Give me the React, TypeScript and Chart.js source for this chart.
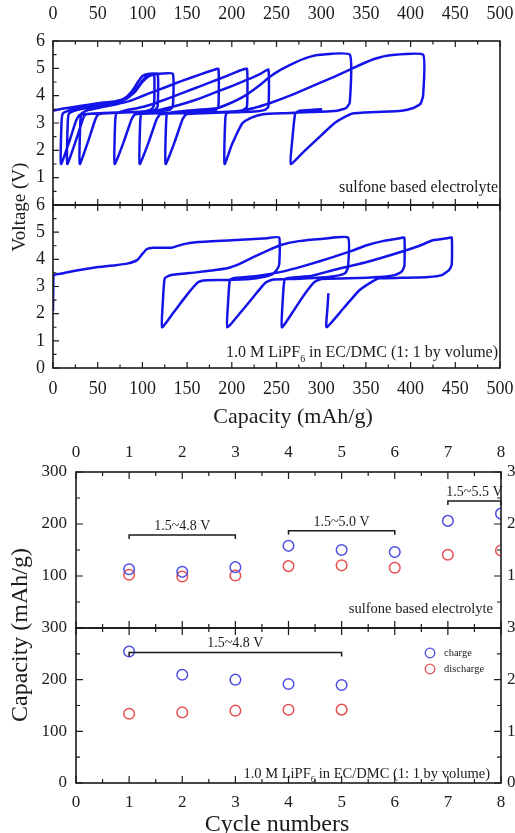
import React, { useEffect, useRef } from "react";
import { Chart, registerables } from "chart.js";

Chart.register(...registerables);

const W = 515;
const H = 833;
const SERIF = "'Liberation Serif', 'Times New Roman', Times, serif";
const INK = "#1b1b1b";
const VOLT_BLUE = "rgb(20, 20, 232)";
const CHARGE_BLUE = "rgb(78, 78, 226)";
const DISCHARGE_RED = "rgb(230, 80, 80)";

type Pt = [number, number];

// ================= Top figure: voltage (V) vs capacity (mAh/g) =================
// --- sulfone based electrolyte ---
const sulfoneCharge1: Pt[] = [[0, 3.45], [10, 3.52], [30, 3.62], [50, 3.72], [70, 3.8], [80, 3.9], [88, 4.15], [95, 4.5], [100, 4.72], [106, 4.79], [113, 4.8]];
const sulfoneDischarge1: Pt[] = [[113, 4.8], [113, 3.65], [110, 3.5], [100, 3.42], [80, 3.38], [50, 3.35], [30, 3.3], [26, 3.1], [18, 2.3], [9, 1.5]];
const sulfoneCharge2: Pt[] = [[9, 1.5], [9.5, 3.0], [11, 3.35], [20, 3.48], [40, 3.6], [60, 3.72], [75, 3.82], [85, 3.95], [92, 4.2], [100, 4.55], [106, 4.75], [117, 4.8]];
const sulfoneDischarge2: Pt[] = [[117, 4.8], [117, 3.6], [114, 3.48], [100, 3.42], [70, 3.38], [45, 3.35], [36, 3.3], [33, 3.1], [25, 2.3], [16, 1.5]];
const sulfoneCharge3: Pt[] = [[16, 1.5], [16.5, 3.0], [18, 3.35], [30, 3.5], [50, 3.62], [70, 3.75], [82, 3.88], [92, 4.15], [100, 4.5], [108, 4.72], [118, 4.8], [134, 4.8]];
const sulfoneDischarge3: Pt[] = [[134, 4.8], [134, 3.6], [130, 3.48], [110, 3.42], [80, 3.38], [55, 3.35], [50, 3.3], [47, 3.1], [39, 2.3], [30, 1.5]];
const sulfoneCharge4: Pt[] = [[30, 1.5], [30.5, 3.0], [32, 3.35], [40, 3.48], [55, 3.58], [70, 3.68], [85, 3.8], [95, 3.92], [108, 4.09], [125, 4.3], [145, 4.55], [165, 4.78], [178, 4.92], [185, 4.98]];
const sulfoneDischarge4: Pt[] = [[185, 4.98], [185, 3.6], [182, 3.48], [170, 3.42], [140, 3.38], [110, 3.35], [92, 3.32], [88, 3.15], [79, 2.3], [69, 1.5]];
const sulfoneCharge5: Pt[] = [[69, 1.5], [69.5, 3.0], [71, 3.35], [80, 3.45], [95, 3.55], [108, 3.66], [125, 3.85], [145, 4.1], [165, 4.35], [185, 4.6], [200, 4.8], [210, 4.93], [217, 4.98]];
const sulfoneDischarge5: Pt[] = [[217, 4.98], [217, 3.6], [213, 3.48], [200, 3.42], [170, 3.38], [130, 3.35], [120, 3.32], [116, 3.15], [107, 2.3], [97, 1.5]];
const sulfoneCharge6: Pt[] = [[97, 1.5], [97.5, 3.0], [99, 3.35], [108, 3.42], [119, 3.48], [140, 3.65], [160, 3.85], [180, 4.1], [200, 4.35], [220, 4.62], [233, 4.82], [241, 4.95]];
const sulfoneDischarge6: Pt[] = [[241, 4.95], [241, 3.6], [237, 3.48], [225, 3.42], [190, 3.38], [160, 3.35], [149, 3.32], [145, 3.15], [136, 2.3], [126, 1.5]];
const sulfoneCharge7: Pt[] = [[126, 1.5], [126.5, 3.0], [128, 3.35], [140, 3.42], [160, 3.48], [183, 3.54], [200, 3.75], [215, 4.0], [230, 4.35], [243, 4.7], [255, 4.95], [270, 5.2], [285, 5.4], [299, 5.5], [332, 5.5]];
const sulfoneDischarge7: Pt[] = [[332, 5.5], [332, 3.75], [328, 3.55], [318, 3.45], [290, 3.4], [260, 3.36], [235, 3.32], [222, 3.2], [212, 3.0], [200, 2.2], [192, 1.5]];
const sulfoneCharge8: Pt[] = [[192, 1.5], [192.5, 3.0], [194, 3.35], [205, 3.42], [225, 3.55], [243, 3.73], [265, 4.0], [290, 4.35], [315, 4.7], [332, 4.95], [345, 5.15], [360, 5.35], [377, 5.48], [414, 5.5]];
const sulfoneDischarge8: Pt[] = [[414, 5.5], [414, 4.0], [411, 3.7], [403, 3.55], [390, 3.45], [360, 3.4], [335, 3.35], [325, 3.2], [315, 3.0], [300, 2.55], [282, 2.0], [266, 1.5]];
const sulfoneCharge9: Pt[] = [[266, 1.5], [268, 2.5], [271, 3.35], [276, 3.45], [288, 3.48], [301, 3.5]];

const sulfoneSegments: Pt[][] = [
  sulfoneCharge1, sulfoneDischarge1, sulfoneCharge2, sulfoneDischarge2, sulfoneCharge3, sulfoneDischarge3,
  sulfoneCharge4, sulfoneDischarge4, sulfoneCharge5, sulfoneDischarge5, sulfoneCharge6, sulfoneDischarge6,
  sulfoneCharge7, sulfoneDischarge7, sulfoneCharge8, sulfoneDischarge8, sulfoneCharge9,
];

// --- 1.0 M LiPF6 in EC/DMC ---
const lipfCharge1: Pt[] = [[0, 2.1], [0.3, 3.0], [1, 3.42], [10, 3.48], [28, 3.6], [47, 3.7], [70, 3.78], [84, 3.85], [94, 3.97], [100, 4.2], [105, 4.38], [112, 4.43], [133, 4.43], [145, 4.55], [160, 4.63], [200, 4.7], [240, 4.78], [253, 4.8]];
const lipfDischarge1: Pt[] = [[253, 4.8], [253, 3.8], [250, 3.6], [245, 3.45], [235, 3.35], [220, 3.28], [190, 3.24], [168, 3.22], [162, 3.15], [150, 2.7], [135, 2.05], [122, 1.5]];
const lipfCharge2: Pt[] = [[122, 1.5], [123, 2.5], [125, 3.3], [132, 3.42], [160, 3.52], [180, 3.6], [195, 3.67], [210, 3.85], [224, 4.08], [240, 4.32], [254, 4.52], [275, 4.67], [300, 4.75], [330, 4.8]];
const lipfDischarge2: Pt[] = [[330, 4.8], [330, 3.7], [327, 3.5], [318, 3.4], [300, 3.33], [270, 3.28], [245, 3.25], [237, 3.12], [225, 2.65], [210, 2.05], [195, 1.5]];
const lipfCharge3: Pt[] = [[195, 1.5], [196, 2.5], [198, 3.25], [205, 3.32], [230, 3.4], [254, 3.53], [280, 3.75], [313, 4.08], [335, 4.32], [351, 4.52], [370, 4.68], [388, 4.78], [393, 4.8]];
const lipfDischarge3: Pt[] = [[393, 4.8], [393, 3.75], [390, 3.55], [382, 3.42], [365, 3.35], [330, 3.3], [300, 3.28], [292, 3.15], [280, 2.65], [268, 2.05], [256, 1.5]];
const lipfCharge4: Pt[] = [[256, 1.5], [257, 2.5], [259, 3.25], [265, 3.32], [290, 3.4], [313, 3.6], [351, 3.9], [388, 4.26], [410, 4.5], [425, 4.7], [441, 4.78], [446, 4.8]];
const lipfDischarge4: Pt[] = [[446, 4.8], [446, 3.8], [443, 3.6], [435, 3.42], [420, 3.35], [390, 3.32], [365, 3.3], [358, 3.2], [343, 2.87], [325, 2.2], [306, 1.5]];
const lipfCharge5: Pt[] = [[306, 1.5], [307, 2.2], [308, 2.75]];

const lipfSegments: Pt[][] = [
  lipfCharge1, lipfDischarge1, lipfCharge2, lipfDischarge2, lipfCharge3, lipfDischarge3,
  lipfCharge4, lipfDischarge4, lipfCharge5,
];

// axis ranges of top figure
const capacityAxis = [0, 500, 50]; // min, max, step (mAh/g)
const voltageAxis = [0, 6, 1]; // min, max, step (V)

// ================= Bottom figure: capacity vs cycle number =================
const sulfoneCycles = [1, 2, 3, 4, 5, 6, 7, 8];
const sulfoneChargeCap = [113, 108, 117, 158, 150, 146, 206, 220];
const sulfoneDischargeCap = [102.5, 99, 101, 119, 120.5, 116, 141, 149];

const lipfCycles = [1, 2, 3, 4, 5];
const lipfChargeCap = [254.6, 209.5, 200, 191.5, 189.6];
const lipfDischargeCap = [134, 136.6, 140, 141.8, 142];

const cycleAxis = [0, 8, 1];
const cycleCapAxis = [0, 300, 100];

// voltage window brackets
const sulfoneRangeLabels = ["1.5~4.8 V", "1.5~5.0 V", "1.5~5.5 V"];
const sulfoneRangeFrom = [1, 4, 7];
const sulfoneRangeTo = [3, 6, 8];
const sulfoneRangeLevel = [179, 187, 244];

const lipfRangeLabels = ["1.5~4.8 V"];
const lipfRangeFrom = [1];
const lipfRangeTo = [5];
const lipfRangeLevel = [252.6];

// ================= helpers =================
function joinSegments(segs: Pt[][]) {
  const out: { x: number; y: number }[] = [];
  segs.forEach((seg) => {
    seg.forEach(([x, y]) => {
      const last = out[out.length - 1];
      if (last && last.x === x && last.y === y) return;
      out.push({ x, y });
    });
  });
  return out;
}

function pairs(xs: number[], ys: number[]) {
  return xs.map((x, i) => ({ x, y: ys[i] }));
}

function axis(
  position: "top" | "bottom" | "left" | "right",
  range: number[],
  size: number,
  padding: number,
  fit: number,
  hideZero = false
) {
  const horizontal = position === "top" || position === "bottom";
  return {
    type: "linear",
    position,
    min: range[0],
    max: range[1],
    ticks: {
      stepSize: range[2],
      color: INK,
      font: { family: SERIF, size },
      padding,
      maxRotation: 0,
      autoSkip: false,
      callback: (v: number) => (hideZero && v === 0 ? "" : String(v)),
    },
    grid: { display: false, drawTicks: false },
    border: { display: false },
    afterFit: (s: any) => {
      if (horizontal) s.height = fit;
      else s.width = fit;
      s.paddingLeft = 0;
      s.paddingRight = 0;
      s.paddingTop = 0;
      s.paddingBottom = 0;
    },
  };
}

type Side = "top" | "bottom" | "left" | "right";

function frameTicks(sides: [Side, string][], major: number, minor: number) {
  return {
    id: "frameTicks",
    afterDatasetsDraw(chart: any) {
      const { ctx, chartArea: a } = chart;
      ctx.save();
      ctx.strokeStyle = INK;
      ctx.lineWidth = 1.2;
      for (const [side, id] of sides) {
        const s = chart.scales[id];
        const vals: number[] = s.ticks.map((t: any) => t.value);
        const marks: [number, number][] = [];
        vals.forEach((v, i) => {
          marks.push([v, major]);
          if (i < vals.length - 1) marks.push([(v + vals[i + 1]) / 2, minor]);
        });
        ctx.beginPath();
        for (const [v, len] of marks) {
          const p = s.getPixelForValue(v);
          if (side === "top") { ctx.moveTo(p, a.top); ctx.lineTo(p, a.top + len); }
          else if (side === "bottom") { ctx.moveTo(p, a.bottom); ctx.lineTo(p, a.bottom - len); }
          else if (side === "left") { ctx.moveTo(a.left, p); ctx.lineTo(a.left + len, p); }
          else { ctx.moveTo(a.right, p); ctx.lineTo(a.right - len, p); }
        }
        ctx.stroke();
      }
      ctx.lineWidth = 1.6;
      ctx.strokeRect(a.left, a.top, a.right - a.left, a.bottom - a.top);
      ctx.restore();
    },
  };
}

function drawText(
  ctx: CanvasRenderingContext2D,
  text: string,
  x: number,
  y: number,
  size: number,
  align: CanvasTextAlign = "center",
  rotate = false
) {
  ctx.save();
  ctx.font = `${size}px ${SERIF}`;
  ctx.fillStyle = INK;
  ctx.textAlign = align;
  ctx.textBaseline = "middle";
  if (rotate) {
    ctx.translate(x, y);
    ctx.rotate(-Math.PI / 2);
    ctx.fillText(text, 0, 0);
  } else {
    ctx.fillText(text, x, y);
  }
  ctx.restore();
}

function drawLiPF(ctx: CanvasRenderingContext2D, right: number, y: number, size: number) {
  const a = "1.0 M LiPF";
  const sub = "6";
  const b = " in EC/DMC (1: 1 by volume)";
  const subSize = size * 0.62;
  ctx.save();
  ctx.fillStyle = INK;
  ctx.textBaseline = "alphabetic";
  ctx.textAlign = "left";
  ctx.font = `${size}px ${SERIF}`;
  const wa = ctx.measureText(a).width;
  const wb = ctx.measureText(b).width;
  ctx.font = `${subSize}px ${SERIF}`;
  const ws = ctx.measureText(sub).width;
  const base = y + size * 0.33;
  let x = right - (wa + ws + wb);
  ctx.font = `${size}px ${SERIF}`;
  ctx.fillText(a, x, base);
  x += wa;
  ctx.font = `${subSize}px ${SERIF}`;
  ctx.fillText(sub, x, base + size * 0.28);
  x += ws;
  ctx.font = `${size}px ${SERIF}`;
  ctx.fillText(b, x, base);
  ctx.restore();
}

function drawBrackets(chart: any, labels: string[], from: number[], to: number[], level: number[], size: number) {
  const { ctx } = chart;
  const xs = chart.scales.x;
  const ys = chart.scales.y;
  ctx.save();
  ctx.strokeStyle = INK;
  ctx.lineWidth = 1.5;
  labels.forEach((lab, i) => {
    const x0 = xs.getPixelForValue(from[i]);
    const x1 = xs.getPixelForValue(to[i]);
    const y = ys.getPixelForValue(level[i]);
    ctx.beginPath();
    ctx.moveTo(x0, y + 4);
    ctx.lineTo(x0, y);
    ctx.lineTo(x1, y);
    ctx.lineTo(x1, y + 4);
    ctx.stroke();
    ctx.font = `${size}px ${SERIF}`;
    ctx.fillStyle = INK;
    ctx.textAlign = "center";
    ctx.textBaseline = "alphabetic";
    ctx.fillText(lab, (x0 + x1) / 2, y - 5);
  });
  ctx.restore();
}

function overlay(draw: (chart: any) => void) {
  return { id: "overlay", afterDraw: (chart: any) => draw(chart) };
}

const common = {
  responsive: false,
  animation: false as const,
  devicePixelRatio: 1,
  events: [] as any[],
  plugins: { legend: { display: false }, tooltip: { enabled: false } },
};

function voltageDataset(segs: Pt[][]) {
  return {
    data: joinSegments(segs),
    showLine: true,
    borderColor: VOLT_BLUE,
    borderWidth: 2.5,
    pointRadius: 0,
    tension: 0.15,
    fill: false,
  };
}

function circleDataset(xs: number[], ys: number[], color: string) {
  return {
    data: pairs(xs, ys),
    showLine: false,
    pointStyle: "circle",
    pointRadius: 5.3,
    pointBorderWidth: 1.5,
    borderColor: color,
    pointBorderColor: color,
    backgroundColor: "rgba(0,0,0,0)",
    pointBackgroundColor: "rgba(0,0,0,0)",
    clip: 0,
  };
}

// ---- panel 1: sulfone voltage profiles ----
function makeVoltageSulfone(canvas: HTMLCanvasElement) {
  return new Chart(canvas, {
    type: "scatter",
    data: { datasets: [voltageDataset(sulfoneSegments) as any] },
    options: {
      ...common,
      layout: { autoPadding: false, padding: { left: 0, right: 15, top: 0, bottom: H - 205 } },
      scales: {
        x: axis("top", capacityAxis, 18, 16, 41) as any,
        y: axis("left", voltageAxis, 18, 8, 53, true) as any,
      },
    } as any,
    plugins: [
      frameTicks([["top", "x"], ["bottom", "x"], ["left", "y"]], 6, 3.5),
      overlay((chart) => {
        drawText(chart.ctx, "sulfone based electrolyte", 498, 188, 16, "right");
      }),
    ],
  });
}

// ---- panel 2: LiPF6 voltage profiles ----
function makeVoltageLipf(canvas: HTMLCanvasElement) {
  return new Chart(canvas, {
    type: "scatter",
    data: { datasets: [voltageDataset(lipfSegments) as any] },
    options: {
      ...common,
      layout: { autoPadding: false, padding: { left: 0, right: 15, top: 205, bottom: H - 368 - 40 } },
      scales: {
        x: axis("bottom", capacityAxis, 18, 10, 40) as any,
        y: axis("left", voltageAxis, 18, 8, 53) as any,
      },
    } as any,
    plugins: [
      frameTicks([["top", "x"], ["bottom", "x"], ["left", "y"]], 6, 3.5),
      overlay((chart) => {
        const ctx = chart.ctx;
        drawLiPF(ctx, 498, 352, 16);
        drawText(ctx, "Voltage (V)", 20, 207, 19, "center", true);
        drawText(ctx, "Capacity (mAh/g)", 293, 417, 22, "center");
      }),
    ],
  });
}

// ---- panel 3: sulfone capacity vs cycle ----
function makeCycleSulfone(canvas: HTMLCanvasElement) {
  return new Chart(canvas, {
    type: "scatter",
    data: {
      datasets: [
        circleDataset(sulfoneCycles, sulfoneChargeCap, CHARGE_BLUE) as any,
        circleDataset(sulfoneCycles, sulfoneDischargeCap, DISCHARGE_RED) as any,
      ],
    },
    options: {
      ...common,
      layout: { autoPadding: false, padding: { left: 0, right: 0, top: 432, bottom: H - 628 } },
      scales: {
        x: axis("top", cycleAxis, 17, 9, 40) as any,
        y: axis("left", cycleCapAxis, 17, 9, 76, true) as any,
        y2: axis("right", cycleCapAxis, 17, 6, 14, true) as any,
      },
    } as any,
    plugins: [
      frameTicks([["top", "x"], ["bottom", "x"], ["left", "y"], ["right", "y2"]], 7, 4),
      overlay((chart) => {
        drawBrackets(chart, sulfoneRangeLabels, sulfoneRangeFrom, sulfoneRangeTo, sulfoneRangeLevel, 14);
        drawText(chart.ctx, "sulfone based electrolyte", 493, 609, 14.5, "right");
      }),
    ],
  });
}

// ---- panel 4: LiPF6 capacity vs cycle ----
function makeCycleLipf(canvas: HTMLCanvasElement) {
  return new Chart(canvas, {
    type: "scatter",
    data: {
      datasets: [
        circleDataset(lipfCycles, lipfChargeCap, CHARGE_BLUE) as any,
        circleDataset(lipfCycles, lipfDischargeCap, DISCHARGE_RED) as any,
      ],
    },
    options: {
      ...common,
      layout: { autoPadding: false, padding: { left: 0, right: 0, top: 628, bottom: H - 783 - 30 } },
      scales: {
        x: axis("bottom", cycleAxis, 17, 9, 30) as any,
        y: axis("left", cycleCapAxis, 17, 9, 76) as any,
        y2: axis("right", cycleCapAxis, 17, 6, 14) as any,
      },
    } as any,
    plugins: [
      frameTicks([["top", "x"], ["bottom", "x"], ["left", "y"], ["right", "y2"]], 7, 4),
      overlay((chart) => {
        const ctx = chart.ctx as CanvasRenderingContext2D;
        drawBrackets(chart, lipfRangeLabels, lipfRangeFrom, lipfRangeTo, lipfRangeLevel, 14);
        // legend
        const entries: [string, string, number][] = [["charge", CHARGE_BLUE, 653], ["discharge", DISCHARGE_RED, 669]];
        entries.forEach(([label, color, y]) => {
          ctx.save();
          ctx.strokeStyle = color;
          ctx.lineWidth = 1.3;
          ctx.beginPath();
          ctx.arc(430, y, 4.8, 0, Math.PI * 2);
          ctx.stroke();
          ctx.restore();
          drawText(ctx, label, 444, y, 10.5, "left");
        });
        drawLiPF(ctx, 490, 773, 14.5);
        drawText(ctx, "Capacity (mAh/g)", 21, 635, 24, "center", true);
        drawText(ctx, "Cycle numbers", 277, 825, 24, "center");
      }),
    ],
  });
}

function ChartLayer({ make }: { make: (c: HTMLCanvasElement) => Chart }) {
  const ref = useRef<HTMLCanvasElement | null>(null);
  useEffect(() => {
    if (!ref.current) return;
    const chart = make(ref.current);
    return () => chart.destroy();
  }, [make]);
  return (
    <canvas
      ref={ref}
      width={W}
      height={H}
      style={{ position: "absolute", left: 0, top: 0, width: W, height: H }}
    />
  );
}

export default function App() {
  return (
    <div
      style={{
        position: "absolute",
        left: 0,
        top: 0,
        width: W,
        height: H,
        overflow: "hidden",
        background: "#ffffff",
      }}
    >
      <ChartLayer make={makeVoltageSulfone} />
      <ChartLayer make={makeVoltageLipf} />
      <ChartLayer make={makeCycleSulfone} />
      <ChartLayer make={makeCycleLipf} />
    </div>
  );
}
